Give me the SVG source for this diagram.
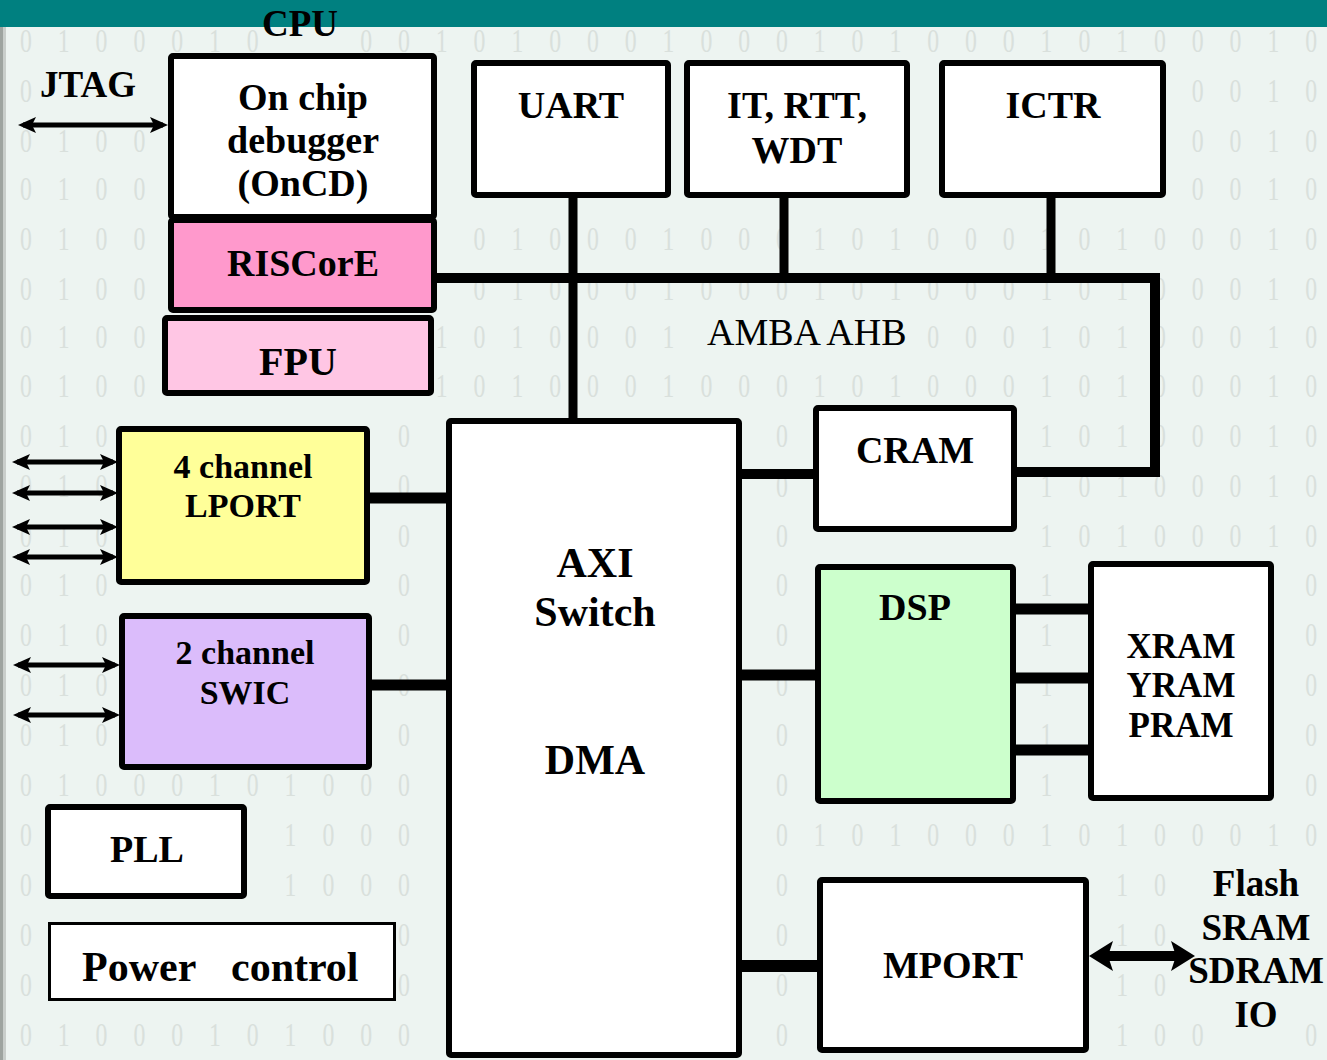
<svg xmlns="http://www.w3.org/2000/svg" width="1327" height="1060" viewBox="0 0 1327 1060">
<defs>
<style>
.bg{fill:#edf4f1}
.dig{font-family:"Liberation Serif",serif;font-size:34px;fill:#d9e0dc}
.box{stroke:#000;stroke-width:6;fill:#fff}
.t{font-family:"Liberation Serif","Times New Roman",serif;font-weight:bold;font-size:38px;fill:#000;text-anchor:middle}
.reg{font-family:"Liberation Serif","Times New Roman",serif;font-size:38px;fill:#000}
.w{fill:none;stroke:#000;stroke-linecap:butt;stroke-linejoin:miter}
</style>
<marker id="ah" markerUnits="userSpaceOnUse" viewBox="0 0 18 16" markerWidth="18" markerHeight="16" refX="13" refY="8" orient="auto-start-reverse">
<path d="M0,0 L18,8 L0,16 L4,8 Z" fill="#000"/>
</marker>
<marker id="ahBig" markerUnits="userSpaceOnUse" viewBox="0 0 24 30" markerWidth="24" markerHeight="30" refX="14" refY="15" orient="auto-start-reverse">
<path d="M0,0 L24,15 L0,30 L5,15 Z" fill="#000"/>
</marker>
</defs>

<g id="background">
<rect class="bg" x="0" y="0" width="1327" height="1060"/>
<rect x="0" y="0" width="3" height="1060" fill="#9ea4a0"/>
<rect x="3" y="0" width="3" height="1060" fill="#c9cecb"/>
<g transform="scale(0.7,1)">
<text class="dig" x="28.6 82.6 136.6 190.6 244.6 298.6 352.6" y="52">0100010</text>
<text class="dig" x="514.6 568.6 622.6 676.6 730.6 784.6 838.6 892.6 946.6 1000.6 1054.6 1108.6 1162.6 1216.6 1270.6 1324.6 1378.6 1432.6 1486.6 1540.6 1594.6 1648.6 1702.6 1756.6 1810.6 1864.6" y="52">00101000100010100010100010</text>

<text class="dig" x="28.6" y="102">0</text>
<text class="dig" x="1702.6 1756.6 1810.6 1864.6" y="102">0010</text>

<text class="dig" x="28.6 82.6 136.6 190.6" y="152">0100</text>
<text class="dig" x="1702.6 1756.6 1810.6 1864.6" y="152">0010</text>

<text class="dig" x="28.6 82.6 136.6 190.6" y="200">0100</text>
<text class="dig" x="1702.6 1756.6 1810.6 1864.6" y="200">0010</text>

<text class="dig" x="28.6 82.6 136.6 190.6" y="250">0100</text>
<text class="dig" x="676.6 730.6 784.6 838.6 892.6 946.6 1000.6 1054.6 1108.6 1162.6 1216.6 1270.6 1324.6 1378.6 1432.6 1486.6 1540.6 1594.6 1648.6 1702.6 1756.6 1810.6 1864.6" y="250">01000100010100010100010</text>

<text class="dig" x="28.6 82.6 136.6 190.6" y="300">0100</text>
<text class="dig" x="676.6 730.6 784.6 838.6 892.6 946.6 1000.6 1054.6 1108.6 1162.6 1216.6 1270.6 1324.6 1378.6 1432.6 1486.6 1540.6 1594.6 1648.6 1702.6 1756.6 1810.6 1864.6" y="300">01000100010100010100010</text>

<text class="dig" x="28.6 82.6 136.6 190.6" y="348">0100</text>
<text class="dig" x="622.6 676.6 730.6 784.6 838.6 892.6 946.6" y="348">1010001</text>
<text class="dig" x="1324.6 1378.6 1432.6 1486.6 1540.6 1594.6 1648.6 1702.6 1756.6 1810.6 1864.6" y="348">00010100010</text>

<text class="dig" x="28.6 82.6 136.6 190.6" y="397">0100</text>
<text class="dig" x="622.6 676.6 730.6 784.6 838.6 892.6 946.6 1000.6 1054.6 1108.6 1162.6 1216.6 1270.6 1324.6 1378.6 1432.6 1486.6 1540.6 1594.6 1648.6 1702.6 1756.6 1810.6 1864.6" y="397">101000100010100010100010</text>

<text class="dig" x="28.6 82.6 136.6" y="447">010</text>
<text class="dig" x="568.6" y="447">0</text>
<text class="dig" x="1108.6" y="447">0</text>
<text class="dig" x="1486.6 1540.6 1594.6 1648.6 1702.6 1756.6 1810.6 1864.6" y="447">10100010</text>

<text class="dig" x="28.6 82.6 136.6" y="497">010</text>
<text class="dig" x="568.6" y="497">0</text>
<text class="dig" x="1108.6" y="497">0</text>
<text class="dig" x="1486.6 1540.6 1594.6 1648.6 1702.6 1756.6 1810.6 1864.6" y="497">10100010</text>

<text class="dig" x="28.6 82.6 136.6" y="547">010</text>
<text class="dig" x="568.6" y="547">0</text>
<text class="dig" x="1108.6" y="547">0</text>
<text class="dig" x="1486.6 1540.6 1594.6 1648.6 1702.6 1756.6 1810.6 1864.6" y="547">10100010</text>

<text class="dig" x="28.6 82.6 136.6" y="596">010</text>
<text class="dig" x="568.6" y="596">0</text>
<text class="dig" x="1108.6" y="596">0</text>
<text class="dig" x="1486.6" y="596">1</text>
<text class="dig" x="1864.6" y="596">0</text>

<text class="dig" x="28.6 82.6 136.6" y="646">010</text>
<text class="dig" x="568.6" y="646">0</text>
<text class="dig" x="1108.6" y="646">0</text>
<text class="dig" x="1486.6" y="646">1</text>
<text class="dig" x="1864.6" y="646">0</text>

<text class="dig" x="28.6 82.6 136.6" y="696">010</text>
<text class="dig" x="568.6" y="696">0</text>
<text class="dig" x="1108.6" y="696">0</text>
<text class="dig" x="1486.6" y="696">1</text>
<text class="dig" x="1864.6" y="696">0</text>

<text class="dig" x="28.6 82.6 136.6" y="746">010</text>
<text class="dig" x="568.6" y="746">0</text>
<text class="dig" x="1108.6" y="746">0</text>
<text class="dig" x="1486.6" y="746">1</text>
<text class="dig" x="1864.6" y="746">0</text>

<text class="dig" x="28.6 82.6 136.6 190.6 244.6 298.6 352.6 406.6 460.6 514.6 568.6" y="796">01000101000</text>
<text class="dig" x="1108.6" y="796">0</text>
<text class="dig" x="1486.6" y="796">1</text>
<text class="dig" x="1864.6" y="796">0</text>

<text class="dig" x="28.6" y="846">0</text>
<text class="dig" x="406.6 460.6 514.6 568.6" y="846">1000</text>
<text class="dig" x="1108.6 1162.6 1216.6 1270.6 1324.6 1378.6 1432.6 1486.6 1540.6 1594.6 1648.6 1702.6 1756.6 1810.6 1864.6" y="846">010100010100010</text>

<text class="dig" x="28.6" y="896">0</text>
<text class="dig" x="406.6 460.6 514.6 568.6" y="896">1000</text>
<text class="dig" x="1108.6" y="896">0</text>
<text class="dig" x="1594.6 1648.6" y="896">10</text>

<text class="dig" x="28.6" y="946">0</text>
<text class="dig" x="568.6" y="946">0</text>
<text class="dig" x="1108.6" y="946">0</text>
<text class="dig" x="1594.6 1648.6" y="946">10</text>

<text class="dig" x="28.6" y="996">0</text>
<text class="dig" x="568.6" y="996">0</text>
<text class="dig" x="1108.6" y="996">0</text>
<text class="dig" x="1594.6 1648.6" y="996">10</text>

<text class="dig" x="28.6 82.6 136.6 190.6 244.6 298.6 352.6 406.6 460.6 514.6 568.6" y="1046">01000101000</text>
<text class="dig" x="1108.6" y="1046">0</text>
<text class="dig" x="1594.6 1648.6 1702.6" y="1046">100</text>
<text class="dig" x="1864.6" y="1046">0</text>
</g>
<rect x="0" y="0" width="1327" height="27" fill="#008080"/>
</g>

<g id="labels">
<text class="t" x="300" y="36" style="font-size:37px">CPU</text>
<text class="t" x="88" y="97" style="font-size:37px">JTAG</text>
<text class="reg" x="707" y="345">AMBA AHB</text>
<text class="t" style="font-size:37px"><tspan x="1256" y="896">Flash</tspan><tspan x="1256" dy="44">SRAM</tspan><tspan x="1256" dy="43">SDRAM</tspan><tspan x="1256" dy="44">IO</tspan></text>
</g>

<g id="connectors">
<path class="w" d="M437,278 H1155 V472 H1015" stroke-width="10"/>
<path class="w" d="M573,197 V420" stroke-width="9"/>
<path class="w" d="M784,197 V278" stroke-width="9"/>
<path class="w" d="M1051,197 V278" stroke-width="9"/>
<path class="w" d="M368,498 H448" stroke-width="11"/>
<path class="w" d="M370,685 H448" stroke-width="11"/>
<path class="w" d="M741,474 H815" stroke-width="10"/>
<path class="w" d="M741,675 H817" stroke-width="11"/>
<path class="w" d="M1014,609 H1090" stroke-width="11"/>
<path class="w" d="M1014,678 H1090" stroke-width="11"/>
<path class="w" d="M1014,750 H1090" stroke-width="11"/>
<path class="w" d="M741,966 H819" stroke-width="12"/>
<path class="w" d="M23,125 H163" stroke-width="5" marker-start="url(#ah)" marker-end="url(#ah)"/>
<path class="w" d="M17,462 H113" stroke-width="5" marker-start="url(#ah)" marker-end="url(#ah)"/>
<path class="w" d="M17,493 H113" stroke-width="5" marker-start="url(#ah)" marker-end="url(#ah)"/>
<path class="w" d="M17,527 H113" stroke-width="5" marker-start="url(#ah)" marker-end="url(#ah)"/>
<path class="w" d="M17,557 H113" stroke-width="5" marker-start="url(#ah)" marker-end="url(#ah)"/>
<path class="w" d="M18,665 H115" stroke-width="5" marker-start="url(#ah)" marker-end="url(#ah)"/>
<path class="w" d="M18,715 H115" stroke-width="5" marker-start="url(#ah)" marker-end="url(#ah)"/>
<path class="w" d="M1099,956 H1185" stroke-width="10" marker-start="url(#ahBig)" marker-end="url(#ahBig)"/>
</g>

<g id="oncd">
<rect class="box" x="171" y="56" width="263" height="161" rx="2"/>
<text class="t"><tspan x="303" y="110">On chip</tspan><tspan x="303" dy="43">debugger</tspan><tspan x="303" dy="43">(OnCD)</tspan></text>
</g>
<g id="riscore">
<rect class="box" x="171" y="220" width="263" height="90" rx="2" style="fill:#ff99cc"/>
<text class="t" x="303" y="276">RISCorE</text>
</g>
<g id="fpu">
<rect class="box" x="165" y="318" width="266" height="75" rx="2" style="fill:#ffc6e4"/>
<text class="t" x="298" y="375" style="font-size:40px">FPU</text>
</g>
<g id="uart">
<rect class="box" x="474" y="63" width="194" height="132" rx="2"/>
<text class="t" x="571" y="118">UART</text>
</g>
<g id="it-rtt-wdt">
<rect class="box" x="687" y="63" width="220" height="132" rx="2"/>
<text class="t"><tspan x="797" y="118">IT, RTT,</tspan><tspan x="797" dy="45">WDT</tspan></text>
</g>
<g id="ictr">
<rect class="box" x="942" y="63" width="221" height="132" rx="2"/>
<text class="t" x="1053" y="118">ICTR</text>
</g>
<g id="lport">
<rect class="box" x="119" y="429" width="248" height="153" rx="2" style="fill:#ffff99"/>
<text class="t" style="font-size:34px"><tspan x="243" y="478">4 channel</tspan><tspan x="243" dy="39">LPORT</tspan></text>
</g>
<g id="swic">
<rect class="box" x="122" y="616" width="247" height="151" rx="2" style="fill:#dbbcfb"/>
<text class="t" style="font-size:34px"><tspan x="245" y="664">2 channel</tspan><tspan x="245" dy="40">SWIC</tspan></text>
</g>
<g id="axi">
<rect class="box" x="449" y="421" width="290" height="634" rx="2"/>
<text class="t" style="font-size:42px"><tspan x="595" y="577">AXI</tspan><tspan x="595" dy="49">Switch</tspan></text>
<text class="t" x="595" y="774" style="font-size:42px">DMA</text>
</g>
<g id="cram">
<rect class="box" x="816" y="408" width="198" height="121" rx="2"/>
<text class="t" x="915" y="463">CRAM</text>
</g>
<g id="dsp">
<rect class="box" x="818" y="567" width="195" height="234" rx="2" style="fill:#ccffcc"/>
<text class="t" x="915" y="620">DSP</text>
</g>
<g id="xram">
<rect class="box" x="1091" y="564" width="180" height="234" rx="2"/>
<text class="t" style="font-size:35px"><tspan x="1181" y="658">XRAM</tspan><tspan x="1181" dy="39">YRAM</tspan><tspan x="1181" dy="40">PRAM</tspan></text>
</g>
<g id="pll">
<rect class="box" x="48" y="807" width="196" height="89" rx="2"/>
<text class="t" x="147" y="862">PLL</text>
</g>
<g id="power">
<rect class="box" x="49.5" y="923.5" width="345" height="76" style="stroke-width:3"/>
<text class="t" style="font-size:42px;text-anchor:start"><tspan x="82" y="981">Power</tspan><tspan x="231" y="981">control</tspan></text>
</g>
<g id="mport">
<rect class="box" x="820" y="880" width="266" height="170" rx="2"/>
<text class="t" x="953" y="978">MPORT</text>
</g>
</svg>
